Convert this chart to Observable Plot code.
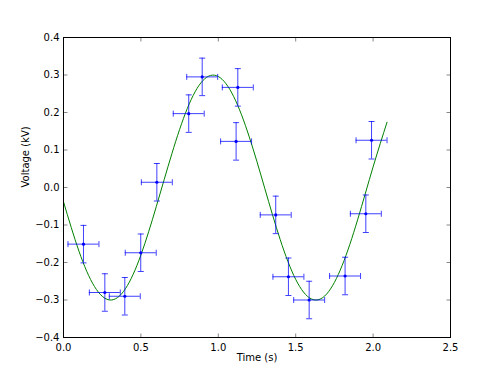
<!DOCTYPE html>
<html>
<head>
<meta charset="utf-8">
<script src="https://cdn.jsdelivr.net/npm/d3@7"></script>
<script src="https://cdn.jsdelivr.net/npm/@observablehq/plot@0.6"></script>
<style>
  html, body { margin: 0; padding: 0; background: #fff; }
</style>
</head>
<body>
<div id="chart"></div>
<script>
// Measured data points
const timeS = [0.129, 0.267, 0.396, 0.499, 0.603, 0.809, 0.896, 1.126, 1.115, 1.371, 1.453, 1.587, 1.819, 1.953, 1.990];
const voltageKV = [-0.151, -0.280, -0.290, -0.174, 0.014, 0.197, 0.295, 0.267, 0.123, -0.073, -0.238, -0.300, -0.236, -0.070, 0.126];
const timeErr = 0.1;
const voltageErr = 0.05;

// Fitted curve
const fitT = [0, 0.1, 0.2, 0.3, 0.4, 0.5, 0.6, 0.7, 0.8, 0.9, 1.0, 1.1, 1.2, 1.3, 1.4, 1.5, 1.6, 1.7, 1.8, 1.9, 2.0, 2.09];
const fitV = [-0.038, -0.170, -0.264, -0.300, -0.270, -0.180, -0.050, 0.090, 0.211, 0.285, 0.296, 0.242, 0.135, -0.002, -0.139, -0.245, -0.297, -0.284, -0.208, -0.086, 0.055, 0.174];

// Tick labels
const xTicks = [0, 0.5, 1.0, 1.5, 2.0, 2.5];
const yTicks = [-0.4, -0.3, -0.2, -0.1, 0.0, 0.1, 0.2, 0.3, 0.4];

const points = timeS.map((t, i) => ({t, v: voltageKV[i]}));
const fit = fitT.map((t, i) => ({t, v: fitV[i]}));

const hline = (w) => ({draw(ctx) { ctx.moveTo(-w, 0); ctx.lineTo(w, 0); }});
const vline = (h) => ({draw(ctx) { ctx.moveTo(0, -h); ctx.lineTo(0, h); }});
const fmt = d3.format(".1f");
const tickColor = "#888";

const chart = Plot.plot({
  width: 500,
  height: 375,
  marginLeft: 63,
  marginRight: 50,
  marginTop: 37,
  marginBottom: 38,
  style: {fontFamily: "DejaVu Sans, sans-serif", fontSize: "10px", background: "#fff", color: "#000"},
  x: {domain: [0, 2.5]},
  y: {domain: [-0.4, 0.4]},
  marks: [
    Plot.axisX({ticks: xTicks, tickFormat: fmt, tickSize: 0, tickPadding: 6, label: null}),
    Plot.axisY({ticks: yTicks, tickFormat: fmt, tickSize: 0, tickPadding: 4, label: null}),
    // inward ticks on all four sides
    Plot.dot(xTicks, {x: d => d, y: () => -0.4, symbol: vline(2), dy: -2, stroke: tickColor, strokeWidth: 1, r: 2}),
    Plot.dot(xTicks, {x: d => d, y: () => 0.4, symbol: vline(2), dy: 2, stroke: tickColor, strokeWidth: 1, r: 2}),
    Plot.dot(yTicks, {y: d => d, x: () => 0, symbol: hline(2), dx: 2, stroke: tickColor, strokeWidth: 1, r: 2}),
    Plot.dot(yTicks, {y: d => d, x: () => 2.5, symbol: hline(2), dx: -2, stroke: tickColor, strokeWidth: 1, r: 2}),
    // fitted curve
    Plot.line(fit, {x: "t", y: "v", stroke: "green", strokeWidth: 1, curve: "natural"}),
    // error bars
    Plot.ruleX(points, {x: "t", y1: d => d.v - voltageErr, y2: d => d.v + voltageErr, stroke: "blue", strokeWidth: 1, strokeOpacity: 0.75}),
    Plot.ruleY(points, {y: "v", x1: d => d.t - timeErr, x2: d => d.t + timeErr, stroke: "blue", strokeWidth: 1, strokeOpacity: 0.75}),
    Plot.dot(points, {x: "t", y: d => d.v + voltageErr, symbol: hline(3), r: 3, stroke: "blue", strokeWidth: 1, strokeOpacity: 0.75}),
    Plot.dot(points, {x: "t", y: d => d.v - voltageErr, symbol: hline(3), r: 3, stroke: "blue", strokeWidth: 1, strokeOpacity: 0.75}),
    Plot.dot(points, {x: d => d.t - timeErr, y: "v", symbol: vline(3), r: 3, stroke: "blue", strokeWidth: 1, strokeOpacity: 0.75}),
    Plot.dot(points, {x: d => d.t + timeErr, y: "v", symbol: vline(3), r: 3, stroke: "blue", strokeWidth: 1, strokeOpacity: 0.75}),
    Plot.dot(points, {x: "t", y: "v", r: 1.6, fill: "blue", stroke: "none"}),
    Plot.frame({stroke: "#000", strokeWidth: 1}),
    // axis titles
    Plot.text(["Time (s)"], {frameAnchor: "bottom", dy: 23, fontSize: 10, fill: "#000"}),
    Plot.text(["Voltage (kV)"], {frameAnchor: "left", dx: -38, rotate: -90, fontSize: 10, fill: "#000"})
  ]
});
document.getElementById("chart").appendChild(chart);
</script>
</body>
</html>
